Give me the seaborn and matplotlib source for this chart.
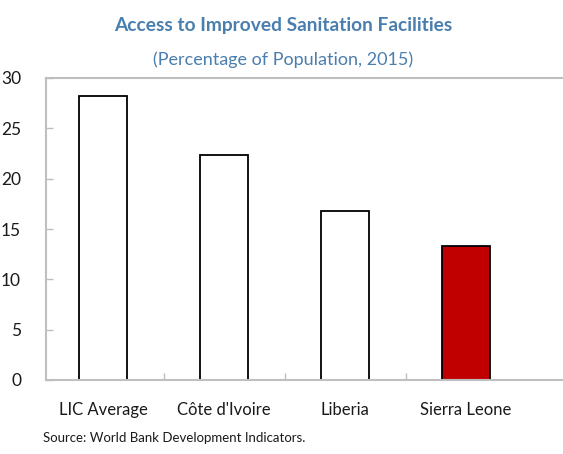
import matplotlib
matplotlib.use("Agg")
import matplotlib.pyplot as plt
import seaborn as sns
import pandas as pd

categories = ["LIC Average", "Côte d'Ivoire", "Liberia", "Sierra Leone"]
values = [28.2, 22.4, 16.8, 13.3]
bar_colors = ["white", "white", "white", "#C00000"]
yticks = [0, 5, 10, 15, 20, 25, 30]

sns.set_theme(style="white")
plt.rcParams['font.family'] = ['Lato', 'DejaVu Sans']

df = pd.DataFrame({"cat": categories, "val": values})

fig = plt.figure(figsize=(5.63, 4.54), dpi=100)
W, H = 563, 454
left_px, right_px, top_px, bot_px = 46, 620, 78, 380
ax = fig.add_axes([left_px / W, (H - bot_px) / H, (right_px - left_px) / W, (bot_px - top_px) / H])

sns.barplot(data=df, x="cat", y="val", hue="cat", palette=bar_colors, legend=False,
            width=0.4, edgecolor="black", linewidth=1.3, ax=ax, saturation=1)

ax.set_ylim(0, 30)
x0 = -57 / 121
x1 = x0 + (right_px - left_px) / 121
ax.set_xlim(x0, x1)
ax.set_yticks(yticks)
ax.set_yticklabels([str(v) for v in yticks], fontsize=12.5, color="#1A1A1A")
ax.set_xticks(range(len(categories)))
ax.set_xticklabels(categories, fontsize=12, color="#1A1A1A")
ax.tick_params(axis="x", length=0, pad=16)
ax.tick_params(axis="y", direction="in", length=5, color="#BFBFBF", width=1, pad=18, left=True)
# category boundary minor ticks
ax.set_xticks([0.5, 1.5, 2.5], minor=True)
ax.tick_params(axis="x", which="minor", direction="in", length=5, color="#BFBFBF", width=1, bottom=True)
ax.set_xlabel("")
ax.set_ylabel("")
for s in ["left", "bottom", "top"]:
    ax.spines[s].set_color("#BFBFBF")
    ax.spines[s].set_linewidth(1.5)
    ax.spines[s].set_visible(True)
ax.spines["right"].set_visible(False)

fig.text(283 / W, 1 - 26 / H, "Access to Improved Sanitation Facilities", ha="center", va="center",
         fontsize=13.8, fontweight="bold", color="#4A7EAE")
fig.text(283 / W, 1 - 60 / H, "(Percentage of Population, 2015)", ha="center", va="center",
         fontsize=13, color="#4A7EAE")
fig.text(43 / W, 1 - 438 / H, "Source: World Bank Development Indicators.", ha="left", va="center",
         fontsize=9.5, color="#1A1A1A")

fig.savefig("out.png", dpi=100)
